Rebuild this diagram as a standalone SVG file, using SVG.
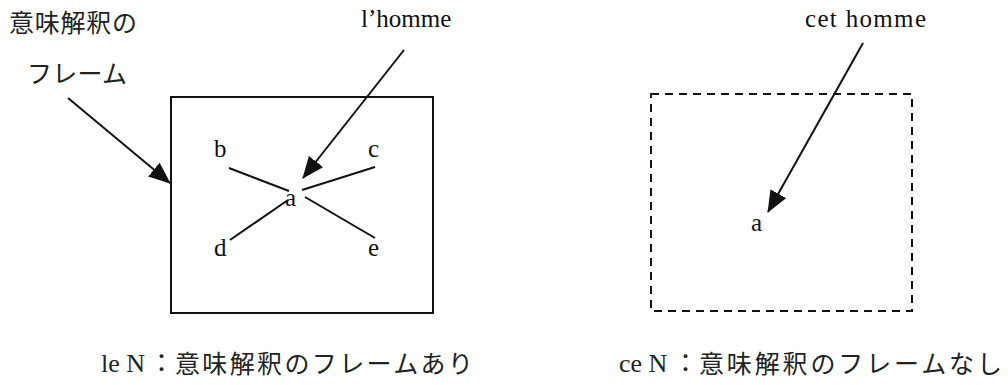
<svg xmlns="http://www.w3.org/2000/svg" width="1008" height="385" viewBox="0 0 1008 385">
<style>
.ja{font-family:"Noto Sans CJK JP",sans-serif;font-size:25px;fill:#222}
.jl{font-family:"Liberation Serif",serif;font-size:26px;fill:#222}
.lt{font-family:"Liberation Serif",serif;font-size:25px;fill:#111}
.ln{stroke:#111;stroke-width:2;fill:none}
.ar{stroke:#111;stroke-width:2;fill:none;marker-end:url(#ah)}
</style>
<defs>
<marker id="ah" viewBox="0 0 22 18" refX="21" refY="9" markerWidth="22" markerHeight="18" markerUnits="userSpaceOnUse" orient="auto">
<path d="M0,0 L22,9 L0,18 z" fill="#111"/>
</marker>
</defs>
<rect width="1008" height="385" fill="#fff"/>
<g id="label-frame">
<text class="ja" x="9" y="32" textLength="128" lengthAdjust="spacing">意味解釈の</text>
<text class="ja" x="27" y="83" textLength="100" lengthAdjust="spacing">フレーム</text>
</g>
<g id="label-lhomme"><text class="lt" x="361" y="27" font-size="26">l’homme</text></g>
<g id="label-cethomme"><text class="lt" x="805" y="27" font-size="26" textLength="121" lengthAdjust="spacing">cet homme</text></g>
<g id="frame-left"><rect class="ln" x="171" y="97" width="262" height="216"/></g>
<g id="frame-right"><rect class="ln" x="651" y="94" width="261" height="217" stroke-dasharray="8,6"/></g>
<g id="node-b"><text class="lt" x="214" y="157">b</text></g>
<g id="node-c"><text class="lt" x="368" y="157">c</text></g>
<g id="node-a"><text class="lt" x="285" y="206">a</text></g>
<g id="node-d"><text class="lt" x="214" y="256">d</text></g>
<g id="node-e"><text class="lt" x="368" y="256">e</text></g>
<g id="node-a2"><text class="lt" x="751" y="231">a</text></g>
<g id="connectors">
<line class="ln" x1="229" y1="168" x2="289" y2="191"/>
<line class="ln" x1="302" y1="190" x2="375" y2="167"/>
<line class="ln" x1="230" y1="240" x2="288" y2="200"/>
<line class="ln" x1="305" y1="197" x2="375" y2="238"/>
<line class="ar" x1="68" y1="98" x2="170" y2="183"/>
<line class="ar" x1="404" y1="50" x2="303" y2="178"/>
<line class="ar" x1="863" y1="43" x2="768" y2="212"/>
</g>
<g id="caption-left">
<text class="jl" x="101" y="372">le N</text>
<text class="ja" x="149" y="372">：</text>
<text class="ja" x="175" y="373" textLength="298" lengthAdjust="spacing">意味解釈のフレームあり</text>
</g>
<g id="caption-right">
<text class="jl" x="619" y="372">ce N</text>
<text class="ja" x="673" y="372">：</text>
<text class="ja" x="699" y="373" textLength="303" lengthAdjust="spacing">意味解釈のフレームなし</text>
</g>
</svg>
